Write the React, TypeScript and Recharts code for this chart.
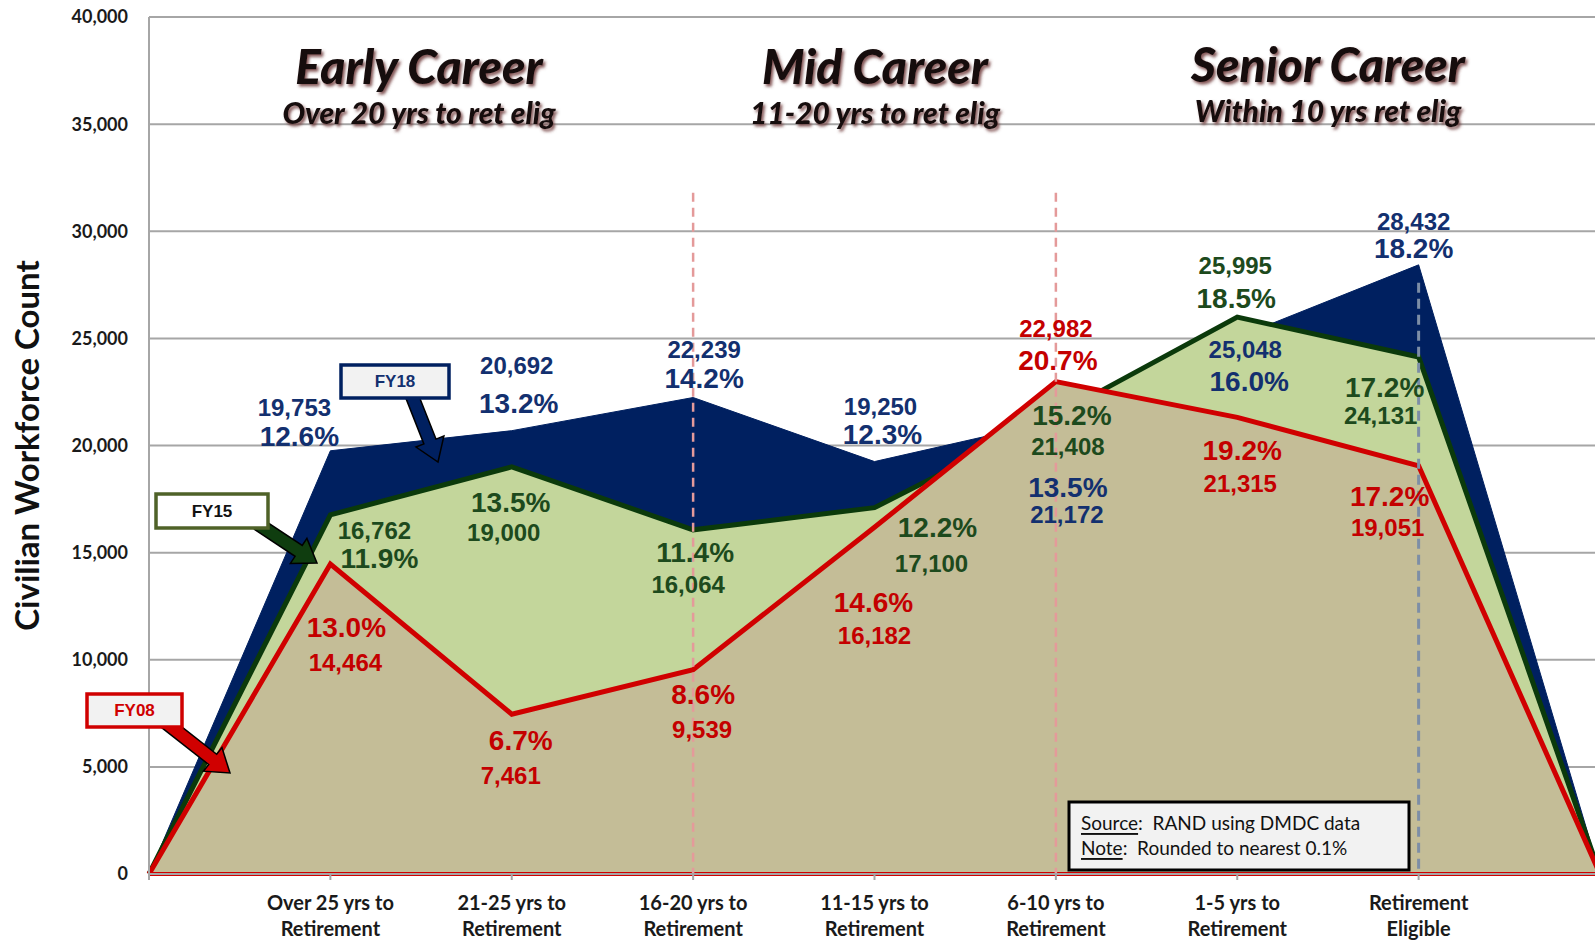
import {
  Area,
  CartesianGrid,
  ComposedChart,
  Line,
  ReferenceLine,
  XAxis,
  YAxis,
} from "recharts";

// first and last slots are empty so the areas start and end at zero on the frame
const categories = [
  "",
  "Over 25 yrs to\nRetirement",
  "21-25 yrs to\nRetirement",
  "16-20 yrs to\nRetirement",
  "11-15 yrs to\nRetirement",
  "6-10 yrs to\nRetirement",
  "1-5 yrs to\nRetirement",
  "Retirement\nEligible",
  " ",
];

const fy18Counts = [0, 19753, 20692, 22239, 19250, 21172, 25048, 28432, 0];
const fy15Counts = [0, 16762, 19000, 16064, 17100, 21408, 25995, 24131, 0];
const fy08Counts = [0, 14464, 7461, 9539, 16182, 22982, 21315, 19051, 0];

const fy18Pcts = [null, 12.6, 13.2, 14.2, 12.3, 13.5, 16.0, 18.2, null];
const fy15Pcts = [null, 11.9, 13.5, 11.4, 12.2, 15.2, 18.5, 17.2, null];
const fy08Pcts = [null, 13.0, 6.7, 8.6, 14.6, 20.7, 19.2, 17.2, null];

const yTicks = [0, 5000, 10000, 15000, 20000, 25000, 30000, 35000, 40000];

const phases = [
  { title: "Early Career", sub: "Over 20 yrs to ret elig" },
  { title: "Mid Career", sub: "11-20 yrs to ret elig" },
  { title: "Senior Career", sub: "Within 10 yrs ret elig" },
];

const rows = categories.map((cat, i) => ({
  cat,
  fy18: fy18Counts[i],
  fy15: fy15Counts[i],
  fy08: fy08Counts[i],
}));

const colors = {
  navy: "#002060",
  navyText: "#13306f",
  green: "#c3d69b",
  greenLine: "#0b3a0b",
  greenText: "#1d4a1d",
  tan: "#c4bd97",
  red: "#d00000",
  redText: "#c40000",
  grid: "#a6a6a6",
};

// label offsets from each point: [countDx, countDy, pctDx, pctDy]
type Spot = [number, number, number, number] | null;
const fy18Spots: Spot[] = [
  null,
  [-36, -43, -31, -14],
  [5, -65, 7, -27],
  [11, -48, 11, -19],
  [6, -55, 8, -27],
  [11, 94, 12, 67],
  [8, 12, 12, 44],
  [-5, -43, -5, -16],
  null,
];
const fy15Spots: Spot[] = [
  null,
  [44, 16, 49, 44],
  [-8, 66, -1, 36],
  [-5, 55, 2, 23],
  [57, 56, 63, 20],
  [12, 31, 16, 0],
  [-2, -52, -1, -19],
  [-38, 59, -34, 31],
  null,
];
const fy08Spots: Spot[] = [
  null,
  [15, 98, 16, 63],
  [-1, 61, 9, 26],
  [9, 60, 10, 25],
  [0, 108, -1, 75],
  [0, -53, 2, -21],
  [3, 66, 5, 33],
  [-31, 62, -29, 31],
  null,
];

const labelFont = "'Liberation Sans', Arial, sans-serif";
const bodyFont = "Lato, 'Open Sans', sans-serif";

function makeLabels(
  counts: number[],
  pcts: (number | null)[],
  spots: Spot[],
  color: string,
  id: string
) {
  return (props: any) => {
    const { cx, cy, index } = props;
    const spot = spots[index];
    const pct = pcts[index];
    if (!spot || pct == null || cx == null) return <g key={`${id}-${index}`} />;
    return (
      <g key={`${id}-${index}`} fontFamily={labelFont} fontWeight="bold" fill={color}>
        <text x={cx + spot[0]} y={cy + spot[1]} textAnchor="middle" dominantBaseline="central" fontSize={24}>
          {counts[index].toLocaleString("en-US")}
        </text>
        <text x={cx + spot[2]} y={cy + spot[3]} textAnchor="middle" dominantBaseline="central" fontSize={28}>
          {pct.toFixed(1)}%
        </text>
      </g>
    );
  };
}

function CategoryTick(props: any) {
  const { x, y, payload } = props;
  const lines = String(payload.value).trim().split("\n");
  return (
    <g>
      {lines.map((line, i) => (
        <text
          key={i}
          x={x}
          y={y + 20 + i * 26}
          textAnchor="middle"
          dominantBaseline="central"
          fontFamily={bodyFont}
          fontWeight="bold"
          fontSize={20}
          fill="#1a1a1a"
        >
          {line}
        </text>
      ))}
    </g>
  );
}

function YTitle(props: any) {
  const vb = props.viewBox || { x: 0, y: 0, height: 0 };
  const cx = vb.x + 26;
  const cy = vb.y + vb.height / 2;
  return (
    <text
      x={cx}
      y={cy}
      transform={`rotate(-90, ${cx}, ${cy})`}
      textAnchor="middle"
      dominantBaseline="central"
      fontFamily={bodyFont}
      fontWeight="bold"
      fontSize={33}
      fill="#111"
    >
      Civilian Workforce Count
    </text>
  );
}

function arrowPoints(x1: number, y1: number, x2: number, y2: number, shaft: number, head: number, headLen: number) {
  const len = Math.hypot(x2 - x1, y2 - y1);
  const ux = (x2 - x1) / len;
  const uy = (y2 - y1) / len;
  const nx = -uy;
  const ny = ux;
  const bx = x2 - ux * headLen;
  const by = y2 - uy * headLen;
  const pts = [
    [x1 + (nx * shaft) / 2, y1 + (ny * shaft) / 2],
    [bx + (nx * shaft) / 2, by + (ny * shaft) / 2],
    [bx + (nx * head) / 2, by + (ny * head) / 2],
    [x2, y2],
    [bx - (nx * head) / 2, by - (ny * head) / 2],
    [bx - (nx * shaft) / 2, by - (ny * shaft) / 2],
    [x1 - (nx * shaft) / 2, y1 - (ny * shaft) / 2],
  ];
  return pts.map((p) => p.join(",")).join(" ");
}

const callouts = [
  { text: "FY18", box: [341, 365, 108, 33], border: colors.navy, fill: "#f2f2f2", textColor: colors.navyText, arrow: [412, 396, 438, 462], arrowFill: colors.navy },
  { text: "FY15", box: [156, 494, 112, 34], border: "#4f6228", fill: "#ffffff", textColor: "#111", arrow: [258, 524, 317, 563], arrowFill: "#0f3d0f" },
  { text: "FY08", box: [87, 694, 95, 33], border: colors.red, fill: "#f2f2f2", textColor: colors.red, arrow: [165, 722, 230, 773], arrowFill: colors.red },
];

const phaseCenters = [
  [419, 65, 112],
  [875, 65, 112],
  [1328, 63, 110],
];

function Overlay() {
  return (
    <svg width={1595} height={940} style={{ position: "absolute", left: 0, top: 0, pointerEvents: "none" }}>
      <defs>
        <filter id="headShadow" x="-10%" y="-30%" width="120%" height="160%">
          <feDropShadow dx="2" dy="2.5" stdDeviation="1.4" floodColor="#6e3b3b" floodOpacity="0.85" />
        </filter>
      </defs>
      {phases.map((p, i) => (
        <g key={p.title} filter="url(#headShadow)" fontFamily={bodyFont} fontWeight="900" fontStyle="italic" fill="#141010" textAnchor="middle">
          <text x={phaseCenters[i][0]} y={phaseCenters[i][1]} dominantBaseline="central" fontSize={48}>
            {p.title}
          </text>
          <text x={phaseCenters[i][0]} y={phaseCenters[i][2]} dominantBaseline="central" fontSize={30}>
            {p.sub}
          </text>
        </g>
      ))}
      {callouts.map((c) => (
        <g key={c.text}>
          <polygon
            points={arrowPoints(c.arrow[0], c.arrow[1], c.arrow[2], c.arrow[3], 13, 30, 22)}
            fill={c.arrowFill}
            stroke="#000"
            strokeWidth={1.5}
            strokeLinejoin="miter"
          />
          <rect x={c.box[0]} y={c.box[1]} width={c.box[2]} height={c.box[3]} fill={c.fill} stroke={c.border} strokeWidth={3.5} />
          <text
            x={c.box[0] + c.box[2] / 2}
            y={c.box[1] + c.box[3] / 2}
            textAnchor="middle"
            dominantBaseline="central"
            fontFamily={labelFont}
            fontWeight="bold"
            fontSize={17}
            fill={c.textColor}
          >
            {c.text}
          </text>
        </g>
      ))}
      <g>
        <rect x={1069} y={802} width={340} height={68} fill="#f2f2f2" stroke="#000" strokeWidth={3} />
        <text x={1081} y={822} dominantBaseline="central" fontFamily={bodyFont} fontSize={19} fill="#111" style={{ whiteSpace: "pre" }}>
          <tspan style={{ textDecoration: "underline" }}>Source</tspan>
          <tspan>:  RAND using DMDC data</tspan>
        </text>
        <text x={1081} y={847} dominantBaseline="central" fontFamily={bodyFont} fontSize={19} fill="#111" style={{ whiteSpace: "pre" }}>
          <tspan style={{ textDecoration: "underline" }}>Note</tspan>
          <tspan>:  Rounded to nearest 0.1%</tspan>
        </text>
      </g>
    </svg>
  );
}

export default function App() {
  return (
    <div
      style={{
        position: "absolute",
        left: 0,
        top: 0,
        width: 1595,
        height: 940,
        overflow: "hidden",
        background: "#fff",
      }}
    >
      <ComposedChart width={1610} height={940} data={rows} margin={{ top: 17, right: 10, bottom: 0, left: 0 }}>
        <CartesianGrid vertical={false} stroke={colors.grid} strokeWidth={2} />
        <XAxis
          dataKey="cat"
          interval={0}
          height={66}
          tick={<CategoryTick />}
          tickLine={{ stroke: colors.grid, strokeWidth: 2 }}
          axisLine={{ stroke: colors.grid, strokeWidth: 2 }}
        />
        <YAxis
          width={149}
          domain={[0, 40000]}
          ticks={yTicks}
          tickLine={false}
          tickMargin={15}
          axisLine={{ stroke: colors.grid, strokeWidth: 2 }}
          tickFormatter={(v) => Number(v).toLocaleString("en-US")}
          tick={{ fill: "#1a1a1a", fontSize: 18, fontWeight: "bold", fontFamily: bodyFont }}
          label={<YTitle />}
        />

        <Area type="linear" dataKey="fy18" fill={colors.navy} fillOpacity={1} stroke={colors.navy} strokeWidth={1} isAnimationActive={false} />
        <Area type="linear" dataKey="fy15" fill={colors.green} fillOpacity={1} stroke={colors.greenLine} strokeWidth={5} isAnimationActive={false} />
        <Area type="linear" dataKey="fy08" fill={colors.tan} fillOpacity={1} stroke={colors.red} strokeWidth={5} isAnimationActive={false} />

        <ReferenceLine y={0} stroke={colors.red} strokeWidth={4} />
        <ReferenceLine
          segment={[
            { x: categories[3], y: 31800 },
            { x: categories[3], y: 0 },
          ]}
          stroke="#e49a9a"
          strokeWidth={2.5}
          strokeDasharray="9 6"
        />
        <ReferenceLine
          segment={[
            { x: categories[5], y: 31800 },
            { x: categories[5], y: 0 },
          ]}
          stroke="#e49a9a"
          strokeWidth={2.5}
          strokeDasharray="9 6"
        />
        <ReferenceLine
          segment={[
            { x: categories[7], y: 27600 },
            { x: categories[7], y: 0 },
          ]}
          stroke="#7d8ea6"
          strokeWidth={3}
          strokeDasharray="10 6"
        />

        <Line dataKey="fy18" stroke="none" activeDot={false} isAnimationActive={false} dot={makeLabels(fy18Counts, fy18Pcts, fy18Spots, colors.navyText, "a")} />
        <Line dataKey="fy15" stroke="none" activeDot={false} isAnimationActive={false} dot={makeLabels(fy15Counts, fy15Pcts, fy15Spots, colors.greenText, "b")} />
        <Line dataKey="fy08" stroke="none" activeDot={false} isAnimationActive={false} dot={makeLabels(fy08Counts, fy08Pcts, fy08Spots, colors.redText, "c")} />
      </ComposedChart>
      <Overlay />
    </div>
  );
}
